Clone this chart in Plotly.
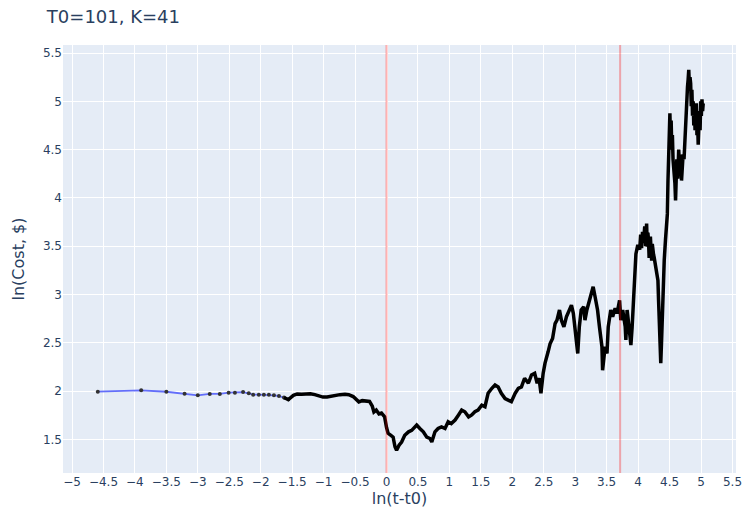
import plotly.graph_objects as go

# Early samples (sparse in log-time): drawn as a line with point markers
early_x = [-4.59, -3.90, -3.50, -3.21, -3.00, -2.81, -2.65, -2.51, -2.41, -2.28,
           -2.19, -2.12, -2.03, -1.95, -1.87, -1.79, -1.71, -1.63, -1.56]
early_y = [1.995, 2.009, 1.994, 1.974, 1.957, 1.971, 1.971, 1.984, 1.984, 1.991,
           1.978, 1.964, 1.964, 1.964, 1.964, 1.957, 1.950, 1.934, 1.914]

# Later samples (dense in log-time)
path_x = [-1.63, -1.56, -1.48, -1.42, -1.35, -1.27, -1.21, -1.14, -1.07, -1.01,
          -0.945, -0.875, -0.81, -0.74, -0.66, -0.60, -0.53, -0.48, -0.44, -0.385,
          -0.32, -0.27, -0.226, -0.20, -0.163, -0.12, -0.08, -0.03, 0.0, 0.025,
          0.065, 0.105, 0.135, 0.16, 0.20, 0.24, 0.29, 0.35, 0.40, 0.48,
          0.53, 0.585, 0.64, 0.69, 0.72, 0.77, 0.82, 0.875, 0.93, 0.98,
          1.03, 1.09, 1.145, 1.195, 1.245, 1.305, 1.355, 1.405, 1.455, 1.515,
          1.565, 1.615, 1.675, 1.725, 1.775, 1.825, 1.885, 1.935, 1.985, 2.045,
          2.095, 2.145, 2.195, 2.255, 2.305, 2.355, 2.395, 2.425, 2.455, 2.49,
          2.52, 2.57, 2.60, 2.64, 2.68, 2.71, 2.75, 2.78, 2.82, 2.86,
          2.905, 2.94, 2.97, 2.99, 3.02, 3.04, 3.065, 3.095, 3.135, 3.155,
          3.185, 3.225, 3.265, 3.285, 3.315, 3.355, 3.385, 3.425, 3.435, 3.475,
          3.505, 3.525, 3.565, 3.595, 3.635, 3.665, 3.705, 3.725, 3.755, 3.795,
          3.805, 3.825, 3.855, 3.885, 3.905, 3.925, 3.945, 3.965, 3.995, 4.025,
          4.04, 4.055, 4.07, 4.085, 4.105, 4.12, 4.135, 4.145, 4.155, 4.165,
          4.175, 4.185, 4.195, 4.205, 4.215, 4.225, 4.235, 4.245,
          4.255, 4.275, 4.295, 4.315, 4.325, 4.335, 4.345, 4.36, 4.37, 4.38,
          4.395, 4.415, 4.435, 4.465, 4.475, 4.495, 4.505, 4.515, 4.525, 4.535,
          4.545, 4.555, 4.57, 4.585, 4.595, 4.605, 4.615, 4.63, 4.645, 4.66,
          4.675, 4.69, 4.705, 4.715, 4.73, 4.745, 4.755, 4.765, 4.775, 4.785,
          4.795, 4.805, 4.815, 4.825, 4.835, 4.845, 4.855, 4.865, 4.875, 4.885,
          4.895, 4.905, 4.915, 4.925, 4.935, 4.945, 4.955, 4.965, 4.975, 4.985,
          4.995, 5.005, 5.015, 5.025, 5.035]
path_y = [1.934, 1.914, 1.957, 1.971, 1.968, 1.971, 1.974, 1.964, 1.950, 1.939,
          1.939, 1.950, 1.961, 1.964, 1.968, 1.964, 1.944, 1.914, 1.889, 1.902,
          1.899, 1.894, 1.844, 1.784, 1.804, 1.764, 1.774, 1.734, 1.624, 1.564,
          1.544, 1.524, 1.424, 1.389, 1.441, 1.474, 1.544, 1.579, 1.594, 1.649,
          1.614, 1.579, 1.524, 1.510, 1.474, 1.579, 1.614, 1.631, 1.614, 1.684,
          1.664, 1.701, 1.754, 1.804, 1.787, 1.734, 1.754, 1.787, 1.804, 1.854,
          1.839, 1.978, 2.030, 2.064, 2.044, 1.978, 1.924, 1.908, 1.891, 1.978,
          2.030, 2.044, 2.134, 2.082, 2.168, 2.184, 2.082, 2.134, 1.978, 2.184,
          2.290, 2.410, 2.490, 2.545, 2.700, 2.735, 2.840, 2.735, 2.666, 2.770,
          2.840, 2.890, 2.805, 2.700, 2.560, 2.390, 2.666, 2.840, 2.874, 2.735,
          2.840, 2.940, 3.010, 3.080, 2.980, 2.840, 2.666, 2.460, 2.216, 2.460,
          2.390, 2.666, 2.840, 2.770, 2.857, 2.805, 2.940, 2.735, 2.840, 2.666,
          2.530, 2.840, 2.666, 2.476, 2.666, 2.940, 3.220, 3.420, 3.515, 3.465,
          3.620, 3.480, 3.650, 3.535, 3.705, 3.500, 3.735, 3.495, 3.640, 3.565,
          3.380, 3.425, 3.600, 3.485, 3.350, 3.525, 3.420, 3.415,
          3.385, 3.315, 3.250, 3.145, 2.940, 2.720, 2.530, 2.290, 2.470, 2.700,
          3.050, 3.355, 3.565, 3.835, 4.185, 4.595, 4.875, 4.600, 4.800, 4.500,
          4.650, 4.400, 4.300, 4.150, 3.975, 4.250, 4.400, 4.200, 4.500, 4.300,
          4.450, 4.180, 4.300, 4.450, 4.400, 4.650, 4.775, 4.900, 4.945, 5.150,
          5.225, 5.325, 5.150, 5.250, 5.185, 4.950, 5.120, 4.850, 5.000, 4.750,
          4.950, 4.700, 4.850, 4.980, 4.650, 4.800, 4.550, 4.750, 4.900, 4.700,
          5.000, 4.850, 5.020, 4.900, 4.980]

# Reference times (log scale): start of the window and ln(K)
marker_lines = [0.0, 3.714]

FONT = "Verdana, DejaVu Sans, sans-serif"

fig = go.Figure()
fig.add_trace(go.Scatter(
    x=early_x, y=early_y, mode="lines+markers",
    line=dict(color="#636efa", width=1.8),
    marker=dict(color="#333333", size=4),
    showlegend=False,
))
fig.add_trace(go.Scatter(
    x=path_x, y=path_y, mode="lines",
    line=dict(color="black", width=3.5),
    showlegend=False,
))

for xv in marker_lines:
    fig.add_shape(type="line", x0=xv, x1=xv, xref="x", y0=0, y1=1, yref="paper",
                  line=dict(color="red", width=2), opacity=0.3, layer="above")

fig.update_layout(
    width=744, height=515,
    template="plotly",
    font=dict(family=FONT, color="#2a3f5f"),
    margin=dict(l=63, r=8, t=45, b=42),
    title=dict(text="T0=101, K=41", x=0.063, xanchor="left", y=0.967, yanchor="middle",
               font=dict(size=18, family=FONT)),
    xaxis=dict(title=dict(text="ln(t-t0)", font=dict(size=16), standoff=2),
               range=[-5.143, 5.556], automargin=False,
               dtick=0.5, tick0=0, tickfont=dict(size=12)),
    yaxis=dict(title=dict(text="ln(Cost, $)", font=dict(size=16), standoff=14),
               range=[1.153, 5.583],
               automargin=False, dtick=0.5, tick0=0, tickfont=dict(size=12)),
)

fig.write_html("out.html")
